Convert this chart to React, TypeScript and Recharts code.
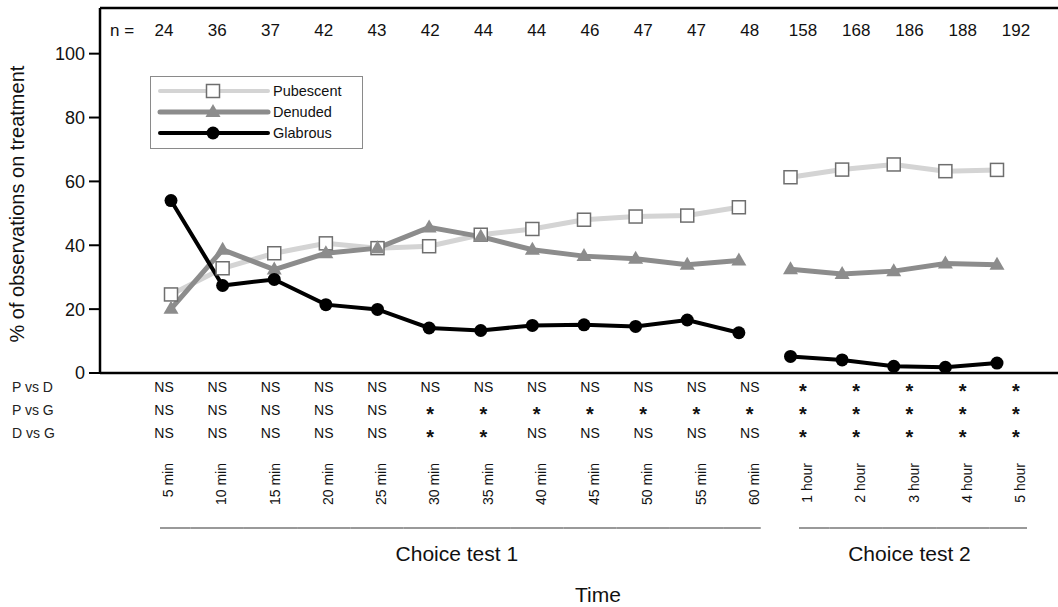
import React from "react";
import { LineChart, Line, XAxis, YAxis } from "recharts";

const times = [
  "5 min", "10 min", "15 min", "20 min", "25 min", "30 min", "35 min", "40 min",
  "45 min", "50 min", "55 min", "60 min", "1 hour", "2 hour", "3 hour", "4 hour", "5 hour",
];
const testGroup = [1, 1, 1, 1, 1, 1, 1, 1, 1, 1, 1, 1, 2, 2, 2, 2, 2];
const groupNames = ["Choice test 1", "Choice test 2"];
const nObs = [24, 36, 37, 42, 43, 42, 44, 44, 46, 47, 47, 48, 158, 168, 186, 188, 192];

const pubescent = [24.6, 32.8, 37.5, 40.6, 39.1, 39.7, 43.3, 45.1, 48.0, 49.0, 49.3, 51.9, 61.3, 63.7, 65.3, 63.2, 63.6];
const denuded = [20.1, 38.6, 32.4, 37.5, 39.1, 45.6, 42.7, 38.6, 36.6, 35.8, 33.9, 35.2, 32.5, 31.0, 31.9, 34.3, 33.9];
const glabrous = [54.0, 27.4, 29.3, 21.4, 19.9, 14.1, 13.3, 14.9, 15.1, 14.6, 16.6, 12.6, 5.2, 4.1, 2.1, 1.8, 3.1];

const rowLabels = ["P vs D", "P vs G", "D vs G"];
const pVsD = ["NS", "NS", "NS", "NS", "NS", "NS", "NS", "NS", "NS", "NS", "NS", "NS", "*", "*", "*", "*", "*"];
const pVsG = ["NS", "NS", "NS", "NS", "NS", "*", "*", "*", "*", "*", "*", "*", "*", "*", "*", "*", "*"];
const dVsG = ["NS", "NS", "NS", "NS", "NS", "*", "*", "NS", "NS", "NS", "NS", "NS", "*", "*", "*", "*", "*"];
const sigRows = [pVsD, pVsG, dVsG];

const yTicks = [0, 20, 40, 60, 80, 100];

// split each series per test so the line breaks between 60 min and 1 hour
const data = times.map((t, i) => ({
  time: t,
  p1: testGroup[i] === 1 ? pubescent[i] : null,
  p2: testGroup[i] === 2 ? pubescent[i] : null,
  d1: testGroup[i] === 1 ? denuded[i] : null,
  d2: testGroup[i] === 2 ? denuded[i] : null,
  g1: testGroup[i] === 1 ? glabrous[i] : null,
  g2: testGroup[i] === 2 ? glabrous[i] : null,
}));

const FONT = "'Liberation Sans', Arial, sans-serif";
const W = 1058;
const H = 607;
const PLOT_LEFT = 100;
const PLOT_W = W - PLOT_LEFT;
const LAB_PAD = { left: 64, right: 42 };
const labStep = (PLOT_W - LAB_PAD.left - LAB_PAD.right) / (times.length - 1);

const PUB = { line: "#d4d4d4", mark: "#6e6e6e" };
const DEN = "#8c8c8c";
const GLA = "#000";

const Square = (props: any) => {
  const { cx, cy, key } = props;
  if (cx == null || cy == null) return <g key={key} />;
  return <rect key={key} x={cx - 6.5} y={cy - 6.5} width={13} height={13} fill="#fff" stroke={PUB.mark} strokeWidth={1.5} />;
};
const Tri = (props: any) => {
  const { cx, cy, key } = props;
  if (cx == null || cy == null) return <g key={key} />;
  return <path key={key} d={`M${cx},${cy - 8} L${cx + 7.5},${cy + 5} L${cx - 7.5},${cy + 5} Z`} fill={DEN} />;
};
const Dot = (props: any) => {
  const { cx, cy, key } = props;
  if (cx == null || cy == null) return <g key={key} />;
  return <circle key={key} cx={cx} cy={cy} r={6.5} fill={GLA} />;
};

const NTick = (props: any) => {
  const { x, y, payload } = props;
  const i = payload.index;
  return (
    <g>
      {i === 0 && (
        <text x={PLOT_LEFT + 10} y={y + 28} fontSize={17} fontFamily={FONT} fill="#111">n =</text>
      )}
      <text x={x} y={y + 28} fontSize={17} fontFamily={FONT} textAnchor="middle" fill="#111">{nObs[i]}</text>
    </g>
  );
};

const TableTick = (props: any) => {
  const { x, y, payload } = props;
  const i = payload.index;
  const g = testGroup[i];
  const first = testGroup.indexOf(g);
  const last = testGroup.lastIndexOf(g);
  const mid = (first + last) / 2;
  const rowY = [14, 37, 60];
  const x1 = i === first ? x - 4 : x - labStep / 2;
  const x2 = i === last ? x + 11 : x + labStep / 2;
  return (
    <g fontFamily={FONT}>
      {i === 0 &&
        rowLabels.map((r, k) => (
          <text key={r} x={12} y={y + rowY[k]} dy="0.35em" fontSize={14} fill="#222">{r}</text>
        ))}
      {sigRows.map((row, k) =>
        row[i] === "*" ? (
          <text key={k} x={x} y={y + rowY[k] + 11} fontSize={20} fontWeight="bold" textAnchor="middle" fill="#111">*</text>
        ) : (
          <text key={k} x={x} y={y + rowY[k]} dy="0.35em" fontSize={14} textAnchor="middle" fill="#111">NS</text>
        )
      )}
      <text
        transform={`translate(${x + 9},${y + 90}) rotate(-90)`}
        textAnchor="end"
        fontSize={14}
        fill="#111"
      >
        {payload.value}
      </text>
      <line x1={x1} x2={x2} y1={y + 155} y2={y + 155} stroke="#777" strokeWidth={1.5} />
      {i === Math.floor(mid) && (
        <text x={x + (mid - i) * labStep} y={y + 188} fontSize={21} textAnchor="middle" fill="#111">
          {groupNames[g - 1]}
        </text>
      )}
      {i === 8 && (
        <text x={(PLOT_LEFT + W) / 2 + 19} y={y + 229} fontSize={21} textAnchor="middle" fill="#111">Time</text>
      )}
    </g>
  );
};

const legendItems = [
  { name: "Pubescent", color: PUB.line, width: 4, marker: "square" },
  { name: "Denuded", color: DEN, width: 5, marker: "tri" },
  { name: "Glabrous", color: GLA, width: 4, marker: "dot" },
];

const LegendBox = () => (
  <svg width={213} height={73} style={{ position: "absolute", left: 150, top: 76 }}>
    <rect x={0.5} y={0.5} width={212} height={72} fill="#fff" stroke="#8a8a8a" />
    {legendItems.map((it, k) => {
      const cy = 15 + k * 21;
      return (
        <g key={it.name}>
          <line x1={10} x2={118} y1={cy} y2={cy} stroke={it.color} strokeWidth={it.width} strokeLinecap="round" />
          {it.marker === "square" && <Square cx={63} cy={cy} />}
          {it.marker === "tri" && <Tri cx={63} cy={cy} />}
          {it.marker === "dot" && <Dot cx={63} cy={cy} />}
          <text x={123} y={cy} dy="0.35em" fontSize={14.5} fontFamily={FONT} fill="#111">{it.name}</text>
        </g>
      );
    })}
  </svg>
);

export default function App() {
  return (
    <div style={{ position: "absolute", left: 0, top: 0, width: W, height: H, background: "#fff" }}>
      <LineChart width={W} height={H} data={data} margin={{ top: 7, right: 0, bottom: 0, left: 0 }}>
        <XAxis xAxisId="data" dataKey="time" hide height={0} padding={{ left: 71, right: 61 }} />
        <XAxis
          xAxisId="n"
          dataKey="time"
          orientation="top"
          height={1}
          padding={LAB_PAD}
          tickLine={false}
          tickSize={0}
          tickMargin={0}
          axisLine={{ stroke: "#000", strokeWidth: 2.5 }}
          tick={<NTick />}
          interval={0}
        />
        <XAxis
          xAxisId="lab"
          dataKey="time"
          height={234}
          padding={LAB_PAD}
          tickLine={false}
          tickSize={0}
          tickMargin={0}
          axisLine={{ stroke: "#000", strokeWidth: 2.5 }}
          tick={<TableTick />}
          interval={0}
        />
        <YAxis
          domain={[0, 114.3]}
          ticks={yTicks}
          width={100}
          allowDataOverflow
          axisLine={{ stroke: "#000", strokeWidth: 2.5 }}
          tickLine={{ stroke: "#000", strokeWidth: 2 }}
          tickSize={11}
          tickMargin={4}
          tick={{ fontSize: 18, fill: "#111", fontFamily: FONT }}
          label={{
            value: "% of observations on treatment",
            angle: -90,
            position: "insideLeft",
            dx: 12,
            dy: 152,
            style: { fontSize: 20, fill: "#111", fontFamily: FONT },
          }}
        />
        <Line xAxisId="data" dataKey="p1" stroke={PUB.line} strokeWidth={5} dot={Square} isAnimationActive={false} connectNulls={false} />
        <Line xAxisId="data" dataKey="p2" stroke={PUB.line} strokeWidth={5} dot={Square} isAnimationActive={false} connectNulls={false} />
        <Line xAxisId="data" dataKey="d1" stroke={DEN} strokeWidth={5} dot={Tri} isAnimationActive={false} connectNulls={false} />
        <Line xAxisId="data" dataKey="d2" stroke={DEN} strokeWidth={5} dot={Tri} isAnimationActive={false} connectNulls={false} />
        <Line xAxisId="data" dataKey="g1" stroke={GLA} strokeWidth={4} dot={Dot} isAnimationActive={false} connectNulls={false} />
        <Line xAxisId="data" dataKey="g2" stroke={GLA} strokeWidth={4} dot={Dot} isAnimationActive={false} connectNulls={false} />
      </LineChart>
      <LegendBox />
    </div>
  );
}
